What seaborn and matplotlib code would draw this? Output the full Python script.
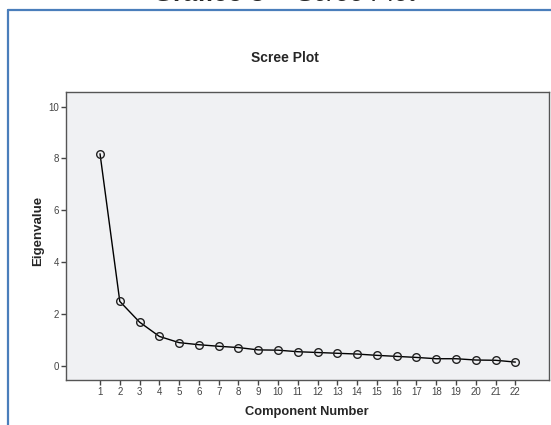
import numpy as np
import pandas as pd
import matplotlib
matplotlib.use("Agg")
import matplotlib.pyplot as plt
import seaborn as sns
from matplotlib.lines import Line2D

# eigenvalues
components = list(range(1, 23))
eigenvalues = [8.18, 2.49, 1.69, 1.14, 0.90, 0.82, 0.76, 0.71, 0.62, 0.61, 0.55,
               0.52, 0.49, 0.46, 0.41, 0.37, 0.33, 0.28, 0.28, 0.23, 0.22, 0.15]
y_ticks = [0, 2, 4, 6, 8, 10]

sns.set_style("white")
plt.rcParams['font.family'] = ['Liberation Sans', 'DejaVu Sans']

df = pd.DataFrame({'Component Number': components, 'Eigenvalue': eigenvalues})

W, H = 551, 425
fig = plt.figure(figsize=(W / 100, H / 100), dpi=100)
ax = fig.add_axes([66 / W, 45 / H, 483 / W, 288 / H])
ax.set_facecolor('#f0f1f3')

sns.lineplot(data=df, x='Component Number', y='Eigenvalue', ax=ax,
             color='black', linewidth=1, marker='o', markersize=5.5,
             markerfacecolor='none', markeredgecolor='#222222', markeredgewidth=1)

ax.set_xlim(-0.72, 23.7)
ax.set_ylim(-0.54, 10.56)
ax.set_xticks(components)
ax.set_yticks(y_ticks)
ax.tick_params(axis='both', direction='out', length=3.6, width=1, color='#444444',
               labelsize=7, labelcolor='#444444', pad=1.5, bottom=True, left=True)
for s in ax.spines.values():
    s.set_color('#555555')
    s.set_linewidth(1)

ax.set_xlabel('Component Number', fontsize=9.3, fontweight='bold')
ax.set_ylabel('Eigenvalue', fontsize=9.5, fontweight='bold')
ax.xaxis.set_label_coords((307 - 66) / 483, -(412 - 380) / 288)
ax.yaxis.set_label_coords(-(66 - 38) / 483, (380 - 231) / 288)
ax.xaxis.label.set_va('center')
ax.yaxis.label.set_va('center')
fig.text(284.5 / W, 1 - 58 / H, 'Scree Plot', fontsize=10, fontweight='bold',
         ha='center', va='center')

# outer blue frame of the figure panel
blue = '#4a7ebb'
fig.add_artist(Line2D([8 / W, 8 / W], [0, 1 - 10 / H], transform=fig.transFigure,
                      color=blue, linewidth=1.6))
fig.add_artist(Line2D([8 / W, 1], [1 - 10 / H, 1 - 10 / H], transform=fig.transFigure,
                      color=blue, linewidth=1.6))

# page caption, cut at the top edge
base = 1 - 1 / H
fig.text(265 / W, base, 'Gráfico 3', fontsize=18.5, fontweight='bold',
         ha='right', va='baseline')
fig.text(281 / W, base, '–', fontsize=18.5, ha='center', va='baseline')
fig.text(297 / W, base, 'Scree Plot', fontsize=18.5, style='italic',
         ha='left', va='baseline')

fig.savefig('out.png', dpi=100)
